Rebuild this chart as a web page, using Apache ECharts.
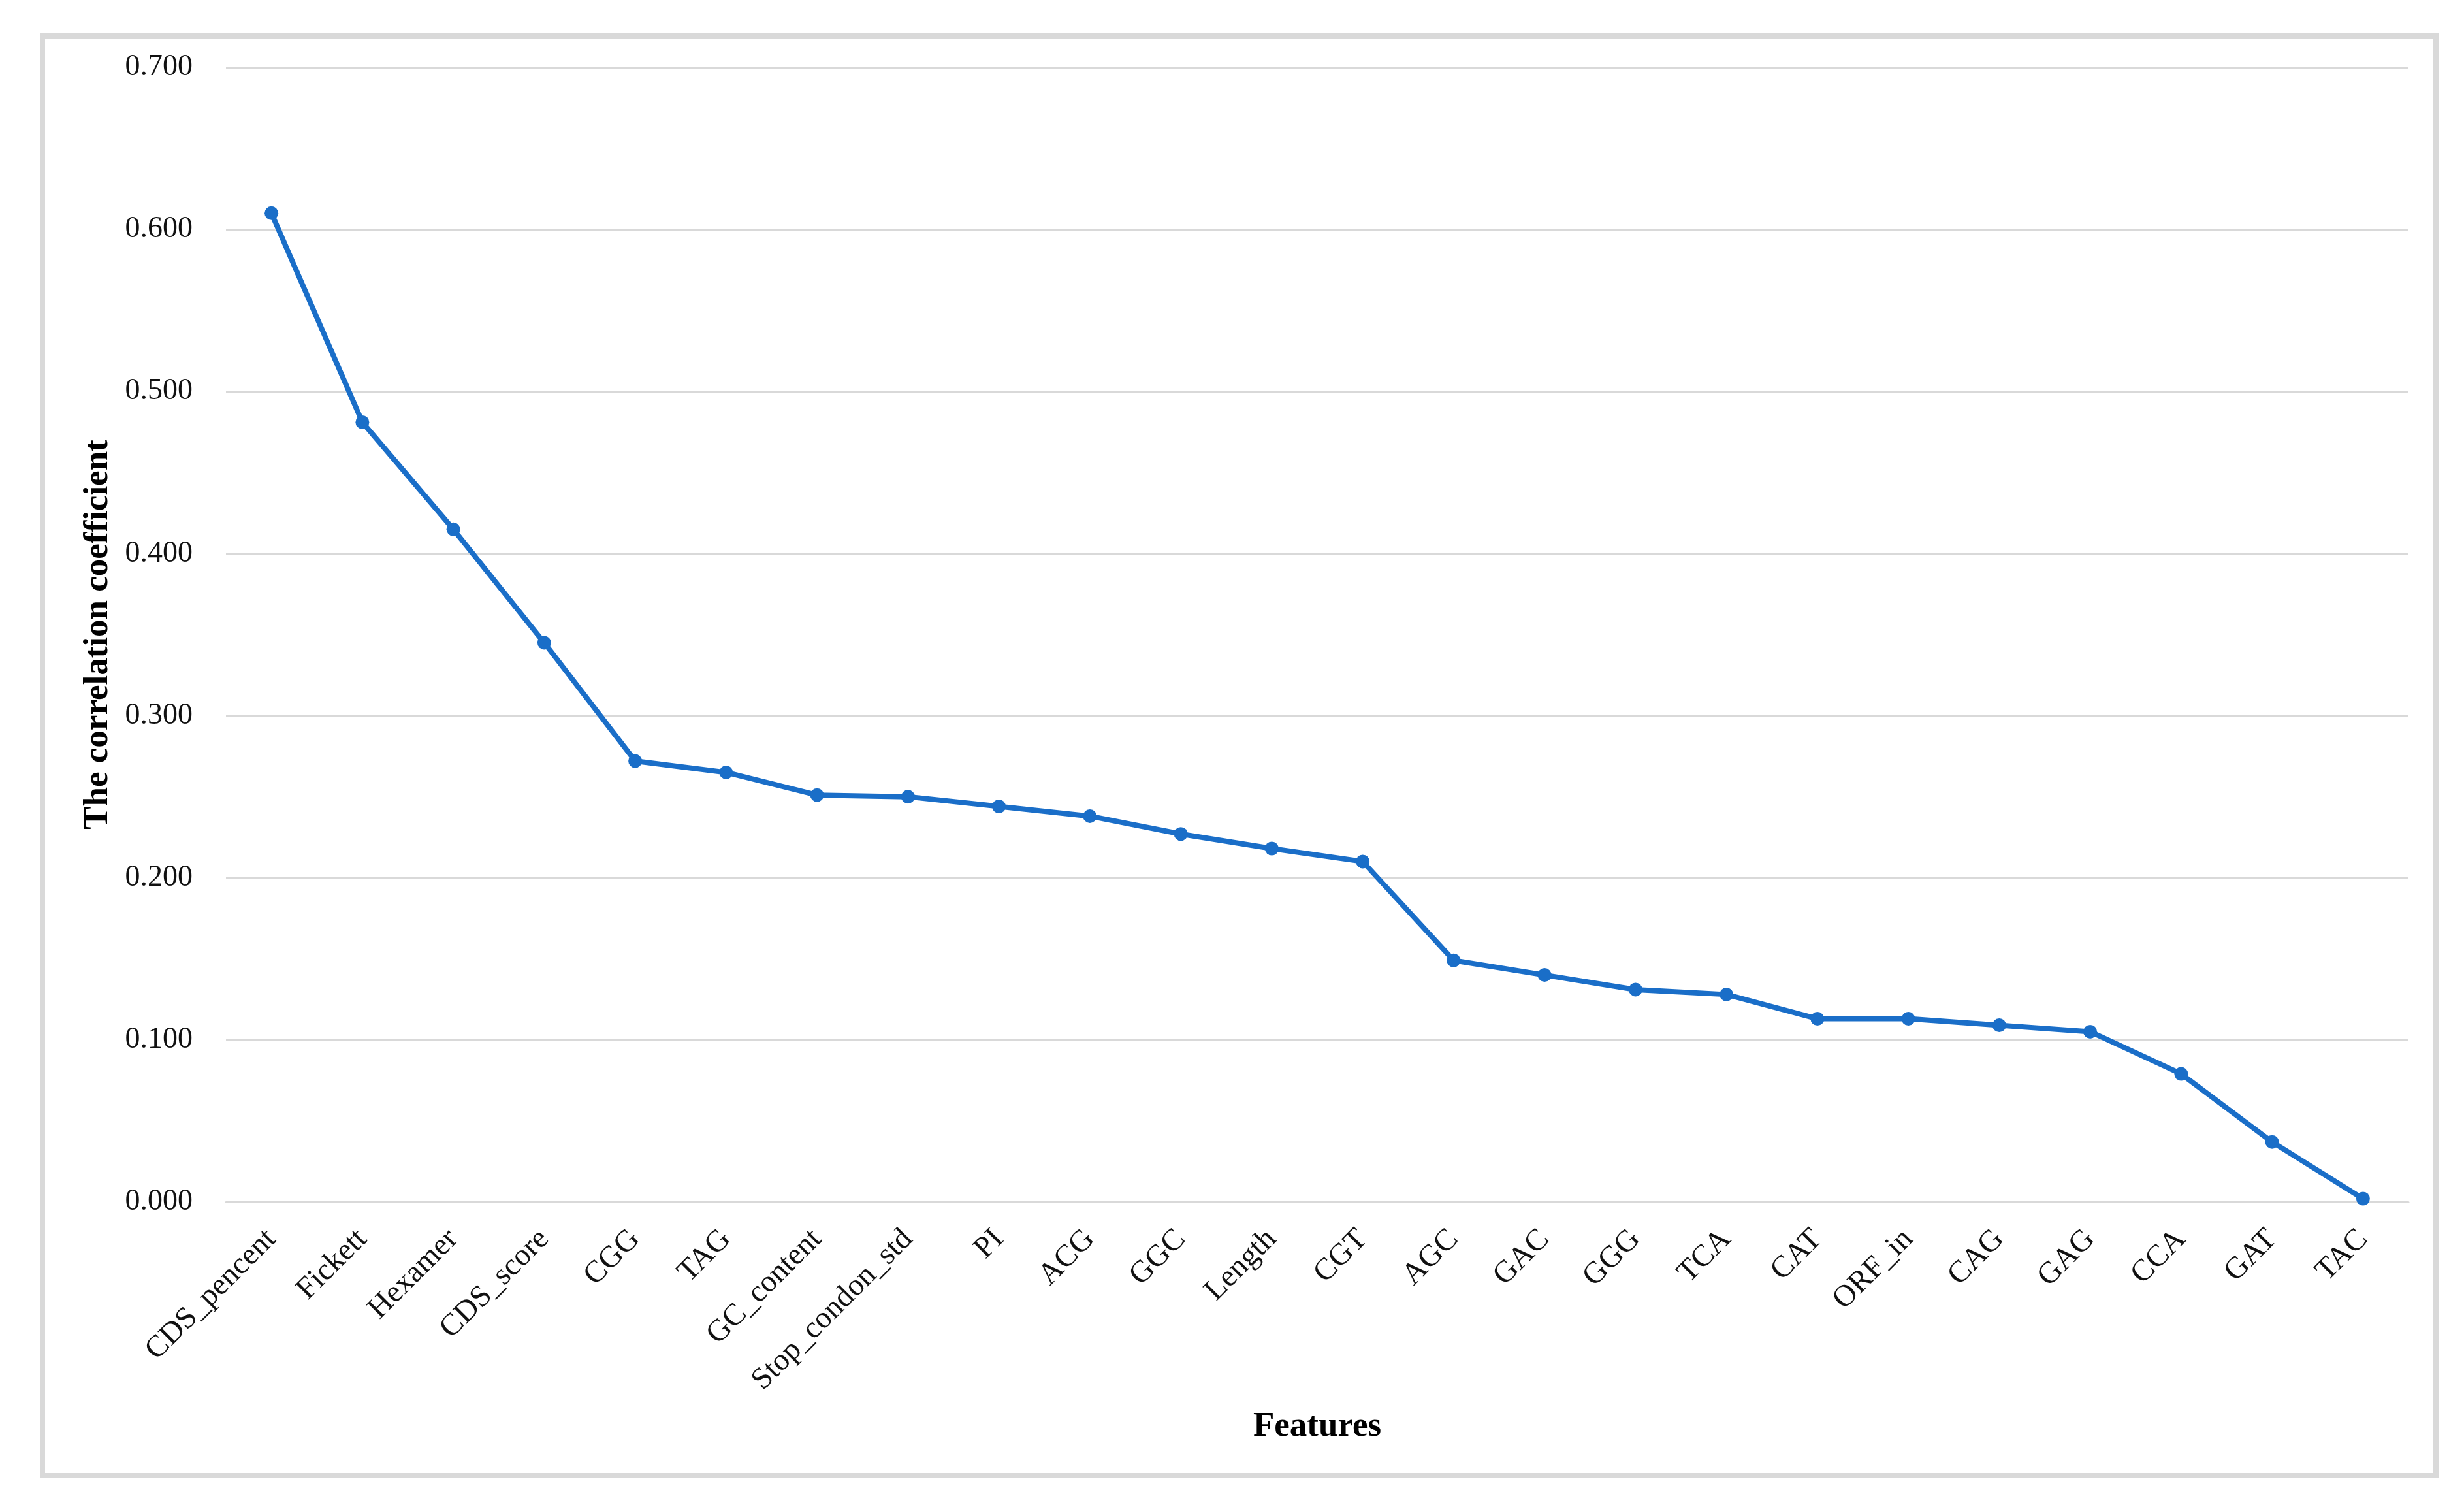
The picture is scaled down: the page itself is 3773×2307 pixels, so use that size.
<!DOCTYPE html>
<html>
<head>
<meta charset="utf-8">
<script src="https://cdn.jsdelivr.net/npm/echarts@6/dist/echarts.min.js"></script>
<style>
html,body{margin:0;padding:0;background:#fff;}
#chart{width:3773px;height:2307px;}
</style>
</head>
<body>
<div id="chart"></div>
<script>
const categories = ["CDS_pencent","Fickett","Hexamer","CDS_score","CGG","TAG","GC_content","Stop_condon_std","PI","ACG","GGC","Length","CGT","AGC","GAC","GGG","TCA","CAT","ORF_in","CAG","GAG","CCA","GAT","TAC"];
const values = [0.610,0.481,0.415,0.345,0.272,0.265,0.251,0.250,0.244,0.238,0.227,0.218,0.210,0.149,0.140,0.131,0.128,0.113,0.113,0.109,0.105,0.079,0.037,0.002];
const yTicks = [0, 0.7, 0.1]; // min, max, interval

const chart = echarts.init(document.getElementById('chart'));
const serif = '"Liberation Serif", "Times New Roman", serif';
chart.setOption({
  backgroundColor: '#ffffff',
  animation: false,
  graphic: [{
    type: 'rect',
    shape: {x: 65, y: 55, width: 3665, height: 2204},
    style: {fill: 'none', stroke: '#d9d9d9', lineWidth: 8},
    silent: true
  }],
  grid: {left: 346, right: 85, top: 103, bottom: 467},
  xAxis: {
    type: 'category',
    data: categories,
    boundaryGap: true,
    name: 'Features',
    nameLocation: 'middle',
    nameGap: 318,
    nameTextStyle: {fontFamily: serif, fontWeight: 'bold', fontSize: 53, color: '#000'},
    axisLine: {show: true, lineStyle: {color: '#d9d9d9', width: 3}},
    axisTick: {show: false},
    axisLabel: {interval: 0, rotate: 45, margin: 50, fontFamily: serif, fontSize: 47, color: '#111'}
  },
  yAxis: {
    type: 'value',
    min: yTicks[0],
    max: yTicks[1],
    interval: yTicks[2],
    name: 'The correlation coefficient',
    nameLocation: 'middle',
    nameGap: 169,
    nameTextStyle: {fontFamily: serif, fontWeight: 'bold', fontSize: 53, color: '#000'},
    axisLine: {show: false},
    axisTick: {show: false},
    splitLine: {show: true, lineStyle: {color: '#d9d9d9', width: 3}},
    axisLabel: {margin: 51, fontFamily: serif, fontSize: 46, color: '#111', formatter: v => v.toFixed(3)}
  },
  series: [{
    type: 'line',
    data: values,
    symbol: 'circle',
    symbolSize: 21,
    lineStyle: {color: '#1a6ec8', width: 8},
    itemStyle: {color: '#1a6ec8'}
  }]
});
</script>
</body>
</html>
